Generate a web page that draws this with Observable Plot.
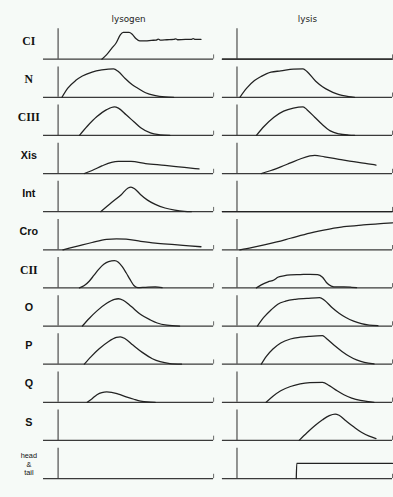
<!DOCTYPE html>
<html>
<head>
<meta charset="utf-8">
<script src="https://cdn.jsdelivr.net/npm/d3@7"></script>
<script src="https://cdn.jsdelivr.net/npm/@observablehq/plot@0.6"></script>
<style>
html,body{margin:0;padding:0;background:#f6faf7;overflow:hidden;width:393px;height:497px;}
</style>
</head>
<body>
<div id="chart"></div>
<script>
const columns = ["lysogen", "lysis"];
const genes = ["CI", "N", "CIII", "Xis", "Int", "Cro", "CII", "O", "P", "Q", "S", "head & tail"];
const serifGenes = ["CI", "N", "CIII", "CII"];

// [time, level] pairs
const lysogen = {
  "CI": [[45,0],[50,0.15],[55,0.35],[60,0.55],[64,0.8],[67,0.88],[73,0.88],[76,0.83],[80,0.68],[84,0.6],[90,0.6],[96,0.62],[101,0.63],[103,0.66],[105,0.63],[112,0.64],[119,0.65],[121,0.67],[123,0.64],[131,0.65],[137,0.65],[139,0.68],[141,0.65],[147,0.65]],
  "N": [[4,0],[10,0.3],[18,0.55],[25,0.7],[35,0.83],[45,0.9],[57,0.94],[62,0.85],[69,0.62],[76,0.42],[82,0.3],[90,0.15],[99,0.06],[110,0.01],[119,0]],
  "CIII": [[22,0],[30,0.3],[40,0.62],[50,0.85],[58,0.94],[62,0.9],[70,0.68],[78,0.45],[85,0.25],[95,0.08],[105,0.02],[115,0]],
  "Xis": [[27,0],[35,0.1],[45,0.25],[55,0.37],[62,0.4],[75,0.4],[90,0.33],[110,0.27],[130,0.2],[145,0.15]],
  "Int": [[44,0],[55,0.3],[65,0.56],[72,0.78],[75,0.81],[79,0.75],[85,0.56],[92,0.38],[100,0.24],[110,0.12],[120,0.05],[130,0.01],[137,0]],
  "Cro": [[5,0],[20,0.12],[35,0.24],[50,0.34],[60,0.36],[70,0.35],[85,0.28],[100,0.22],[120,0.17],[135,0.13],[147,0.1]],
  "CII": [[22,0],[27,0.08],[32,0.22],[37,0.42],[42,0.62],[47,0.78],[52,0.87],[58,0.9],[62,0.85],[66,0.7],[70,0.5],[74,0.28],[78,0.08],[82,0.01],[90,0.02],[100,0.03],[107,0.01]],
  "O": [[25,0],[32,0.25],[40,0.5],[50,0.75],[58,0.88],[62,0.9],[67,0.85],[75,0.65],[85,0.38],[95,0.2],[102,0.1],[112,0.03],[125,0]],
  "P": [[27,0],[34,0.25],[42,0.5],[52,0.75],[60,0.88],[64,0.9],[69,0.84],[77,0.63],[87,0.38],[97,0.18],[105,0.08],[115,0.02],[127,0]],
  "Q": [[30,0],[35,0.12],[40,0.25],[45,0.32],[50,0.34],[55,0.33],[62,0.27],[70,0.18],[78,0.1],[85,0.04],[92,0.01],[100,0]]
};
const lysis = {
  "CI": [[-15,0],[160,0]],
  "N": [[3,0],[10,0.3],[18,0.55],[25,0.69],[35,0.83],[45,0.87],[58,0.93],[68,0.94],[72,0.85],[81,0.53],[88,0.35],[95,0.22],[102,0.12],[108,0.06],[115,0.02],[121,0]],
  "CIII": [[20,0],[28,0.3],[38,0.6],[48,0.8],[58,0.9],[68,0.94],[72,0.85],[80,0.6],[88,0.35],[96,0.15],[105,0.05],[115,0.01],[121,0]],
  "Xis": [[25,0],[35,0.1],[45,0.22],[55,0.35],[65,0.48],[75,0.58],[80,0.6],[90,0.55],[105,0.47],[120,0.39],[135,0.32],[143,0.28]],
  "Int": [[-15,0],[160,0]],
  "Cro": [[3,0],[15,0.07],[28,0.16],[41,0.26],[55,0.38],[75,0.55],[95,0.68],[110,0.76],[130,0.82],[151,0.87],[160,0.89]],
  "CII": [[20,0],[25,0.1],[32,0.2],[38,0.26],[42,0.35],[48,0.4],[55,0.43],[65,0.44],[75,0.45],[83,0.44],[88,0.35],[92,0.18],[97,0.06],[102,0.03],[110,0.03],[118,0.02],[123,0.01]],
  "O": [[21,0],[28,0.3],[35,0.53],[42,0.72],[50,0.82],[60,0.88],[72,0.91],[85,0.94],[90,0.85],[98,0.6],[105,0.42],[112,0.28],[120,0.16],[128,0.08],[136,0.03],[145,0.01]],
  "P": [[25,0],[30,0.25],[37,0.5],[45,0.7],[55,0.83],[65,0.89],[75,0.92],[88,0.94],[92,0.85],[100,0.62],[108,0.42],[115,0.27],[123,0.14],[131,0.06],[141,0.01]],
  "Q": [[30,0],[37,0.2],[45,0.38],[55,0.52],[65,0.61],[75,0.65],[88,0.66],[95,0.55],[103,0.38],[110,0.25],[118,0.14],[127,0.06],[135,0.02],[141,0]],
  "S": [[64,0],[72,0.25],[80,0.48],[88,0.68],[95,0.82],[101,0.87],[105,0.83],[112,0.65],[120,0.45],[128,0.27],[136,0.14],[143,0.06]],
  "head & tail": [[61,0],[61.5,0.5],[160,0.5]]
};

const series = {lysogen, lysis};
const rows = [];
for (const col of columns) {
  for (const gene of genes) {
    const pts = series[col][gene];
    if (!pts) continue;
    for (const [t, v] of pts) rows.push({col, gene, t, v});
  }
}

const chart = Plot.plot({
  width: 402,
  height: 497,
  marginLeft: 43,
  marginRight: 0,
  marginTop: 24,
  marginBottom: 2,
  style: {background: "transparent", overflow: "visible"},
  facet: {marginTop: 0, marginBottom: 0, marginLeft: 0, marginRight: 0},
  fx: {domain: columns, paddingInner: 0.0489, paddingOuter: 0, axis: null},
  fy: {domain: genes, paddingInner: 0.198, paddingOuter: 0, axis: null},
  x: {domain: [-15, 160], axis: null},
  y: {domain: [0, 1], axis: null},
  marks: [
    Plot.ruleY([0], {stroke: "#3a3a3a", strokeWidth: 1.3}),
    Plot.ruleX([0], {y1: 0, y2: 1, stroke: "#3a3a3a", strokeWidth: 1.1}),
    Plot.ruleX([160], {y1: 0, y2: 0.14, stroke: "#666", strokeWidth: 1}),
    Plot.line(rows, {x: "t", y: "v", fx: "col", fy: "gene", stroke: "#222", strokeWidth: 1.3, curve: "monotone-x"}),
    Plot.text(columns, {fx: d => d, fy: () => "CI", text: d => d, frameAnchor: "top", dy: -13, fontSize: 9, fill: "#222", fontFamily: "DejaVu Sans"}),
    Plot.text(genes.filter(g => serifGenes.includes(g)), {fx: () => "lysogen", fy: d => d, text: d => d, frameAnchor: "top-left", dx: -15, dy: 8, textAnchor: "middle", fontSize: 12, fontWeight: "bold", fontFamily: "Liberation Serif", fill: "#111"}),
    Plot.text(genes.filter(g => !serifGenes.includes(g) && g !== "head & tail"), {fx: () => "lysogen", fy: d => d, text: d => d, frameAnchor: "top-left", dx: -15, dy: 8, textAnchor: "middle", fontSize: 11, fontWeight: "bold", fontFamily: "Liberation Sans", fill: "#111"}),
    Plot.text(["head & tail"], {fx: () => "lysogen", fy: d => d, text: () => "head\n&\ntail", frameAnchor: "top-left", dx: -15, dy: 4, lineAnchor: "top", textAnchor: "middle", fontSize: 7.5, lineHeight: 1.15, fontFamily: "Liberation Sans", fill: "#111"})
  ]
});
document.getElementById("chart").appendChild(chart);
</script>
</body>
</html>
